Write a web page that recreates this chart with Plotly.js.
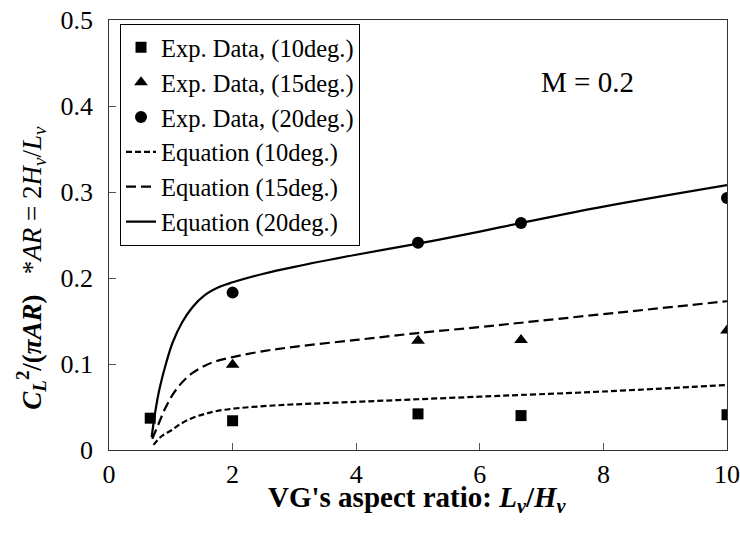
<!DOCTYPE html>
<html>
<head>
<meta charset="utf-8">
<script src="https://cdn.plot.ly/plotly-3.0.1.min.js"></script>
<style>html,body{margin:0;padding:0;background:#fff;}#chart{width:740px;height:535px;}</style>
</head>
<body>
<div id="chart"></div>
<script>
// Experimental data
var expX10 = [0.667, 2, 5, 6.667, 10];
var expY10 = [0.037, 0.034, 0.042, 0.040, 0.041];
var expX15 = [2, 5, 6.667, 10];
var expY15 = [0.099, 0.127, 0.128, 0.139];
var expX20 = [2, 5, 6.667, 10];
var expY20 = [0.183, 0.241, 0.264, 0.293];

// Equation curves
var eqX10 = [0.72, 0.85, 1.01, 1.15, 1.34, 1.55, 1.72, 2.0, 2.5, 3.0, 4.0, 5.0, 6.0, 6.67, 8.0, 10.0];
var eqY10 = [0.006, 0.016, 0.023, 0.030, 0.037, 0.042, 0.045, 0.048, 0.051, 0.053, 0.056, 0.059, 0.062, 0.064, 0.068, 0.0756];
var eqX15 = [0.70, 0.8, 0.9, 1.01, 1.15, 1.34, 1.55, 1.72, 2.0, 2.5, 3.0, 4.0, 5.0, 6.0, 6.67, 8.0, 10.0];
var eqY15 = [0.013, 0.030, 0.047, 0.062, 0.076, 0.089, 0.098, 0.103, 0.108, 0.115, 0.120, 0.128, 0.136, 0.143, 0.148, 0.158, 0.173];
var eqX20 = [0.69, 0.75, 0.82, 0.92, 1.03, 1.18, 1.35, 1.55, 1.8, 2.0, 2.5, 3.0, 4.0, 5.0, 6.0, 6.67, 8.0, 10.0];
var eqY20 = [0.015, 0.045, 0.072, 0.100, 0.125, 0.148, 0.166, 0.180, 0.190, 0.195, 0.205, 0.213, 0.227, 0.240, 0.254, 0.264, 0.283, 0.308];

var xTicks = [0, 2, 4, 6, 8, 10];
var xTickText = ['0', '2', '4', '6', '8', '10'];
var yTicks = [0, 0.1, 0.2, 0.3, 0.4, 0.5];
var yTickText = ['0', '0.1', '0.2', '0.3', '0.4', '0.5'];

var xTitle = "<b>VG's aspect ratio: <i>L<sub>v</sub></i>/<i>H<sub>v</sub></i></b>";
var yTitle = "<b><i>C<sub>L</sub></i><sup>2</sup>/(<i>πAR</i>)</b>   *<i>AR</i> = 2<i>H<sub>v</sub></i>/<i>L<sub>v</sub></i>";
var noteText = 'M = 0.2';

var FONT = 'Liberation Serif';

var traces = [
  {x: expX10, y: expY10, mode: 'markers', name: 'Exp. Data, (10deg.)', legendgroup: 'a', yaxis: 'y',
   marker: {symbol: 'square', size: 11, color: '#000'}},
  {x: expX15, y: expY15, mode: 'markers', name: 'Exp. Data, (15deg.)', legendgroup: 'b', yaxis: 'y',
   marker: {symbol: 'triangle-up', size: 12, color: '#000'}},
  {x: expX20, y: expY20, mode: 'markers', name: 'Exp. Data, (20deg.)', legendgroup: 'c', yaxis: 'y',
   marker: {symbol: 'circle', size: 12, color: '#000'}},
  {x: eqX10, y: eqY10, mode: 'lines', name: 'Equation (10deg.)', legendgroup: 'd', yaxis: 'y2',
   line: {color: '#000', width: 2.2, dash: '6px,3px', shape: 'spline'}},
  {x: eqX15, y: eqY15, mode: 'lines', name: 'Equation (15deg.)', legendgroup: 'e', yaxis: 'y2',
   line: {color: '#000', width: 2.2, dash: '10px,5px', shape: 'spline'}},
  {x: eqX20, y: eqY20, mode: 'lines', name: 'Equation (20deg.)', legendgroup: 'f', yaxis: 'y2',
   line: {color: '#000', width: 2.2, shape: 'spline'}}
];

var layout = {
  width: 740, height: 535,
  margin: {l: 93, r: 13, t: 20, b: 85},
  paper_bgcolor: '#fff', plot_bgcolor: '#fff',
  font: {family: FONT, size: 26, color: '#000'},
  showlegend: true,
  legend: {
    x: 0.0426, y: 0.991, xanchor: 'left', yanchor: 'top',
    bgcolor: '#fff', bordercolor: '#000', borderwidth: 1,
    font: {family: FONT, size: 24.5, color: '#000'},
    traceorder: 'grouped', tracegroupgap: 0
  },
  xaxis: {
    domain: [0.02524, 1],
    range: [0, 10], tickmode: 'array', tickvals: xTicks, ticktext: xTickText,
    ticks: 'inside', ticklen: 7, tickcolor: '#555', tickwidth: 1,
    showline: true, linecolor: '#333', linewidth: 1.3, mirror: true,
    showgrid: false, zeroline: false, automargin: false, ticklabeloverflow: 'allow',
    tickfont: {family: FONT, size: 26, color: '#000'}
  },
  // y axis of the plot box: line and inside ticks
  yaxis: {
    range: [0, 0.5], tickmode: 'array', tickvals: yTicks, showticklabels: false,
    ticks: 'inside', ticklen: 7, tickcolor: '#555', tickwidth: 1,
    showline: true, linecolor: '#333', linewidth: 1.3, mirror: true,
    showgrid: false, zeroline: false, automargin: false
  },
  // same scale, carrying the tick labels a little left of the box
  yaxis2: {
    overlaying: 'y', anchor: 'free', position: 0, side: 'left',
    range: [0, 0.5], tickmode: 'array', tickvals: yTicks, ticktext: yTickText,
    ticks: '', showline: false, showgrid: false, zeroline: false, automargin: false,
    ticklabeloverflow: 'allow',
    tickfont: {family: FONT, size: 26, color: '#000'}
  },
  annotations: [
    {x: 7.75, y: 0.428, xref: 'x', yref: 'y', text: noteText, showarrow: false,
     font: {family: FONT, size: 29, color: '#000'}},
    {x: 0.5126, y: -0.114, xref: 'paper', yref: 'paper', text: xTitle, showarrow: false,
     xanchor: 'center', yanchor: 'middle', font: {family: FONT, size: 29, color: '#000'}},
    {x: -0.0978, y: 0.424, xref: 'paper', yref: 'paper', text: yTitle, showarrow: false,
     textangle: -90, xanchor: 'center', yanchor: 'middle', font: {family: FONT, size: 27, color: '#000'}}
  ]
};

Plotly.newPlot('chart', traces, layout, {displayModeBar: false, staticPlot: true});
</script>
</body>
</html>
